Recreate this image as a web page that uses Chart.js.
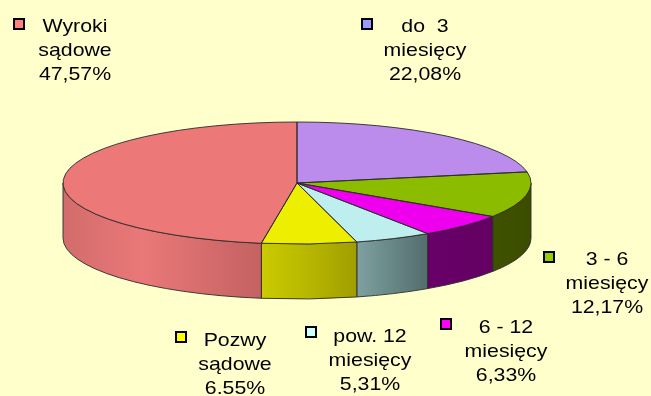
<!DOCTYPE html>
<html>
<head>
<meta charset="utf-8">
<script src="https://cdn.jsdelivr.net/npm/chart.js@4.4.1/dist/chart.umd.min.js"></script>
<style>
  html, body { margin: 0; padding: 0; background: #FFFFCC; }
  #wrap { width: 651px; height: 396px; }
</style>
</head>
<body>
<div id="wrap"><canvas id="chart" width="651" height="396"></canvas></div>
<script>
(function () {
    'use strict';

    // Slices, clockwise from 12 o'clock
    const categories = [['do  3', 'miesięcy'], ['3 - 6', 'miesięcy'], ['6 - 12', 'miesięcy'],
                        ['pow. 12', 'miesięcy'], ['Pozwy', 'sądowe'], ['Wyroki', 'sądowe']];
    const shares = [22.08, 12.17, 6.33, 5.31, 6.55, 47.57];
    const shareLabels = ['22,08%', '12,17%', '6,33%', '5,31%', '6.55%', '47,57%'];

    // Top face, side wall (left -> right) and legend marker colours
    const topColors = ['#BC8CEC', '#8CBC00', '#EE00EE', '#BEEEEE', '#EEEE00', '#EC7878'];
    const sideColors = [
        ['#5E467A', '#5E467A', '#5E467A'],
        ['#3F5200', '#3E5000', '#3C4C00'],
        ['#680068', '#660066', '#640064'],
        ['#7FA1A1', '#6C8C8C', '#546D6D'],
        ['#CACA00', '#BBBB00', '#A09E00'],
        ['#D26C6C', '#EA7878', '#C46262']
    ];
    const markerColors = ['#9999FF', '#99CC00', '#FF00FF', '#CCFFFF', '#FFFF00', '#FF8080'];

    // Label placement: text centre x, first baseline y, marker centre
    const labelSpots = [
        { x: 425, y: 32, mx: 367, my: 24 },
        { x: 607, y: 265, mx: 549, my: 257 },
        { x: 506, y: 333, mx: 446, my: 324 },
        { x: 370, y: 342, mx: 311, my: 332 },
        { x: 235, y: 346, mx: 181, my: 337 },
        { x: 75, y: 32, mx: 19, my: 24 }
    ];

    // Flattened, extruded pie drawn around the library's arc elements
    const pie3d = {
        id: 'pie3d',
        beforeDatasetsDraw(chart, args, opts) {
            const ctx = chart.ctx;
            const arcs = chart.getDatasetMeta(0).data;
            const { cx, cy, rx, ry, depth } = opts;

            // front side walls
            arcs.forEach((arc, i) => {
                const s = Math.max(arc.startAngle, 0);
                const e = Math.min(arc.endAngle, Math.PI);
                if (e <= s) return;
                const xr = cx + rx * Math.cos(s);
                const xl = cx + rx * Math.cos(e);
                const grad = ctx.createLinearGradient(xl, 0, xr, 0);
                grad.addColorStop(0, sideColors[i][0]);
                grad.addColorStop(0.4, sideColors[i][1]);
                grad.addColorStop(1, sideColors[i][2]);
                ctx.beginPath();
                ctx.ellipse(cx, cy, rx, ry, 0, s, e);
                ctx.lineTo(xl, cy + ry * Math.sin(e) + depth);
                ctx.ellipse(cx, cy + depth, rx, ry, 0, e, s, true);
                ctx.closePath();
                ctx.fillStyle = grad;
                ctx.fill();
                ctx.strokeStyle = '#2B2B2B';
                ctx.lineWidth = 0.9;
                ctx.stroke();
            });

            // squash the round pie into the top ellipse
            const a0 = arcs[0];
            ctx.save();
            ctx.translate(cx, cy);
            ctx.scale(rx / a0.outerRadius, ry / a0.outerRadius);
            ctx.translate(-a0.x, -a0.y);
        },
        afterDatasetsDraw(chart, args, opts) {
            const ctx = chart.ctx;
            ctx.restore();
            const arcs = chart.getDatasetMeta(0).data;
            const { cx, cy, rx, ry } = opts;

            // slice outlines on the top face
            ctx.strokeStyle = '#2B2B2B';
            ctx.lineWidth = 0.9;
            arcs.forEach(arc => {
                ctx.beginPath();
                ctx.moveTo(cx, cy);
                ctx.ellipse(cx, cy, rx, ry, 0, arc.startAngle, arc.endAngle);
                ctx.closePath();
                ctx.stroke();
            });

            // labels with colour markers
            ctx.fillStyle = '#000';
            ctx.textAlign = 'center';
            ctx.textBaseline = 'alphabetic';
            labelSpots.forEach((p, i) => {
                ctx.fillStyle = markerColors[i];
                ctx.fillRect(p.mx - 5, p.my - 5, 10, 10);
                ctx.strokeStyle = '#000';
                ctx.lineWidth = 2;
                ctx.strokeRect(p.mx - 5, p.my - 5, 10, 10);

                const lines = categories[i].concat([shareLabels[i]]);
                ctx.fillStyle = '#000';
                ctx.font = '18.5px "Liberation Sans", Arial, sans-serif';
                lines.forEach((t, k) => {
                    ctx.save();
                    ctx.translate(p.x, p.y + k * 24);
                    ctx.scale(1.15, 1);
                    ctx.fillText(t, 0, 0);
                    ctx.restore();
                });
            });
        }
    };

    new Chart(document.getElementById('chart'), {
        type: 'pie',
        data: {
            labels: categories.map(c => c.join(' ')),
            datasets: [{
                data: shares,
                backgroundColor: topColors,
                borderWidth: 0,
                hoverOffset: 0,
                clip: false
            }]
        },
        options: {
            responsive: false,
            animation: false,
            events: [],
            layout: { padding: { left: 0, right: 57, top: 0, bottom: 30 } },
            plugins: {
                legend: { display: false },
                tooltip: { enabled: false },
                pie3d: { cx: 297, cy: 183, rx: 234, ry: 61, depth: 55 }
            }
        },
        plugins: [pie3d]
    });
})();
</script>
</body>
</html>
